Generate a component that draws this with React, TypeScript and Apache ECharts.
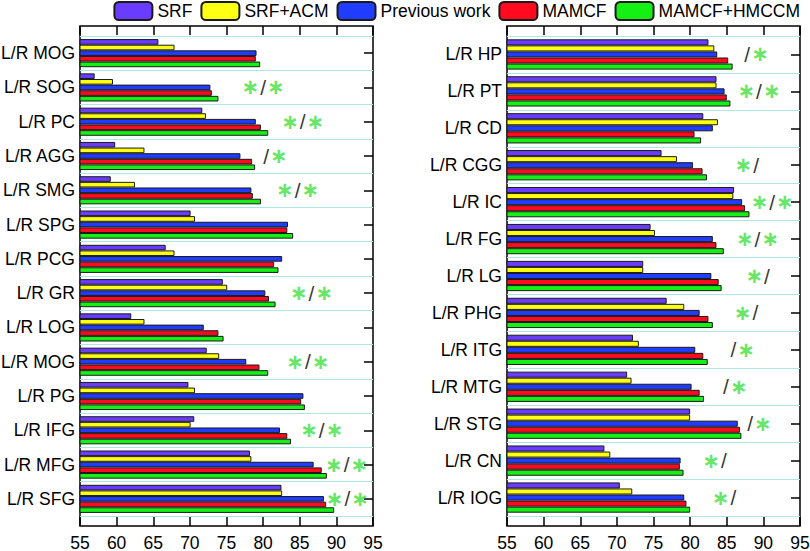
import React, { useEffect, useRef } from "react";
import * as echarts from "echarts";

const seriesNames = ["SRF", "SRF+ACM", "Previous work", "MAMCF", "MAMCF+HMCCM"];
const seriesColors = ["#6a3cff", "#ffff14", "#1f3cff", "#ff0a1e", "#14f014"];

const leftCategories = ["L/R MOG", "L/R SOG", "L/R PC", "L/R AGG", "L/R SMG", "L/R SPG", "L/R PCG", "L/R GR", "L/R LOG", "L/R MOG", "L/R PG", "L/R IFG", "L/R MFG", "L/R SFG"];
const leftSRF = [65.7, 57.0, 71.7, 59.8, 59.2, 70.1, 66.7, 74.5, 62.0, 72.3, 69.8, 70.6, 78.2, 82.5];
const leftSRFACM = [67.9, 59.5, 72.2, 63.8, 62.5, 70.7, 67.9, 75.1, 63.8, 74.0, 70.7, 70.1, 78.4, 82.6];
const leftPrev = [79.1, 72.8, 79.0, 76.9, 78.4, 83.4, 82.6, 80.3, 71.9, 77.7, 85.5, 82.3, 86.9, 88.3];
const leftMAMCF = [79.0, 73.0, 79.7, 78.5, 78.6, 83.3, 81.5, 80.8, 73.9, 79.5, 85.2, 83.3, 88.0, 88.6];
const leftHMCCM = [79.6, 73.9, 80.7, 78.9, 79.7, 84.1, 82.1, 81.7, 74.6, 80.7, 85.7, 83.8, 88.7, 89.7];
const leftMarks = ["", "*/*", "*/*", "/*", "*/*", "", "", "*/*", "", "*/*", "", "*/*", "*/*", "*/*"];
const leftMarkPos = [0, 80.0, 85.4, 81.6, 84.7, 0, 0, 86.6, 0, 86.1, 0, 88.0, 91.4, 91.5];

const rightCategories = ["L/R HP", "L/R PT", "L/R CD", "L/R CGG", "L/R IC", "L/R FG", "L/R LG", "L/R PHG", "L/R ITG", "L/R MTG", "L/R STG", "L/R CN", "L/R IOG"];
const rightSRF = [82.5, 83.6, 81.8, 76.1, 86.0, 74.6, 73.6, 76.8, 72.2, 71.4, 80.0, 68.3, 70.4];
const rightSRFACM = [83.3, 83.6, 83.8, 78.2, 85.9, 75.2, 73.6, 79.2, 73.0, 72.0, 80.0, 69.1, 72.1];
const rightPrev = [83.7, 84.7, 83.1, 80.4, 87.1, 83.1, 82.9, 81.3, 80.7, 80.2, 86.5, 78.7, 79.2];
const rightMAMCF = [85.2, 85.0, 80.6, 81.7, 87.5, 83.6, 83.9, 82.5, 81.8, 81.3, 86.8, 78.6, 79.5];
const rightHMCCM = [85.8, 85.5, 81.5, 82.3, 88.1, 84.6, 84.3, 83.1, 82.4, 81.9, 87.0, 79.1, 80.0];
const rightMarks = ["/*", "*/*", "", "*/", "*/*", "*/*", "*/", "*/", "/*", "/*", "/*", "*/", "*/"];
const rightMarkPos = [89.0, 89.4, 0, 87.8, 91.2, 89.2, 89.3, 87.7, 87.1, 86.1, 89.4, 83.4, 84.7];

const xMin = 55;
const xMax = 95;
const xInterval = 5;

const FONT = "'Liberation Sans', Arial, sans-serif";

export default function App() {
  const ref = useRef<HTMLDivElement>(null);

  useEffect(() => {
    if (!ref.current) return;
    const chart = echarts.init(ref.current, null, { renderer: "svg" });

    const leftData = [leftSRF, leftSRFACM, leftPrev, leftMAMCF, leftHMCCM];
    const rightData = [rightSRF, rightSRFACM, rightPrev, rightMAMCF, rightHMCCM];

    const panels = [
      { left: 80, cats: leftCategories, data: leftData, marks: leftMarks, markPos: leftMarkPos },
      { left: 507, cats: rightCategories, data: rightData, marks: rightMarks, markPos: rightMarkPos },
    ];
    const width = 293;

    const grid: any[] = [];
    const xAxis: any[] = [];
    const yAxis: any[] = [];
    const series: any[] = [];

    panels.forEach((p, pi) => {
      const gFrame = pi * 2;
      const gBars = pi * 2 + 1;
      grid.push({ left: p.left, width, top: 26, bottom: 25, show: true, borderColor: "#000", borderWidth: 1.5, backgroundColor: "transparent", outerBoundsMode: "none", containLabel: false });
      grid.push({ left: p.left, width, top: 36, bottom: 35, show: false, outerBoundsMode: "none", containLabel: false });
      xAxis.push({
        gridIndex: gFrame, type: "value", position: "bottom", min: xMin, max: xMax, interval: xInterval,
        axisLine: { show: false },
        axisTick: { show: true, inside: true, length: 9, lineStyle: { color: "#000", width: 1.5 } },
        axisLabel: { show: true, color: "#000", fontSize: 17.5, lineHeight: 17, fontFamily: FONT, margin: 8 },
        splitLine: { show: false },
      });
      xAxis.push({
        gridIndex: gFrame, type: "value", position: "top", min: xMin, max: xMax, interval: xInterval,
        axisLine: { show: false },
        axisTick: { show: true, inside: true, length: 9, lineStyle: { color: "#000", width: 1.5 } },
        axisLabel: { show: false },
        splitLine: { show: false },
      });
      const xBar = xAxis.length;
      xAxis.push({ gridIndex: gBars, type: "value", min: xMin, max: xMax, show: false, splitLine: { show: false } });
      yAxis.push({ gridIndex: gFrame, type: "value", show: false, splitLine: { show: false } });
      const yCat = yAxis.length;
      yAxis.push({
        gridIndex: gBars, type: "category", data: p.cats, inverse: true, position: "left",
        axisLine: { show: false }, axisTick: { show: false },
        axisLabel: { color: "#000", fontSize: 17.5, fontFamily: FONT, margin: 5, interval: 0 },
        splitLine: { show: true, interval: 0, lineStyle: { color: "#aee6e6", width: 1 } },
      });
      yAxis.push({
        gridIndex: gBars, type: "category", data: p.cats, inverse: true, position: "right",
        axisLine: { show: false },
        axisTick: { show: true, inside: true, length: 9, alignWithLabel: true, interval: 0, lineStyle: { color: "#000", width: 1.5 } },
        axisLabel: { show: false },
        splitLine: { show: false },
      });
      p.data.forEach((vals, si) => {
        series.push({
          type: "bar", name: seriesNames[si], xAxisIndex: xBar, yAxisIndex: yCat,
          data: vals, barGap: "0%", barCategoryGap: "18%", clip: true,
          itemStyle: { color: seriesColors[si], borderColor: "#1a1a1a", borderWidth: 1 },
        });
      });
      const markData: any[] = [];
      p.marks.forEach((m, i) => {
        if (m) markData.push({ value: [p.markPos[i], i], mark: m });
      });
      series.push({
        type: "scatter", xAxisIndex: xBar, yAxisIndex: yCat, symbolSize: 1,
        itemStyle: { color: "rgba(0,0,0,0)" }, silent: true,
        data: markData,
        label: {
          show: true, position: "inside",
          formatter: (d: any) => d.data.mark.split("").map((c: string) => (c === "*" ? "{g|\u2217}" : "{k|/}")).join(""),
          rich: {
            g: { color: "#3ee03e", fontSize: 21, fontFamily: "'DejaVu Sans', sans-serif", fontWeight: "bold" },
            k: { color: "#000", fontSize: 21, fontFamily: FONT, padding: [0, 1, 0, 1] },
          },
        },
      });
    });

    chart.setOption({
      animation: false,
      backgroundColor: "#fff",
      legend: {
        top: 0, right: 10, padding: [1, 0, 0, 0], itemWidth: 38, itemHeight: 18, itemGap: 8,
        data: seriesNames,
        textStyle: { color: "#000", fontSize: 17.5, fontFamily: FONT },
      },
      grid, xAxis, yAxis, series,
    });

    return () => chart.dispose();
  }, []);

  return <div ref={ref} style={{ position: "fixed", left: 0, top: 0, width: 810, height: 551 }} />;
}
